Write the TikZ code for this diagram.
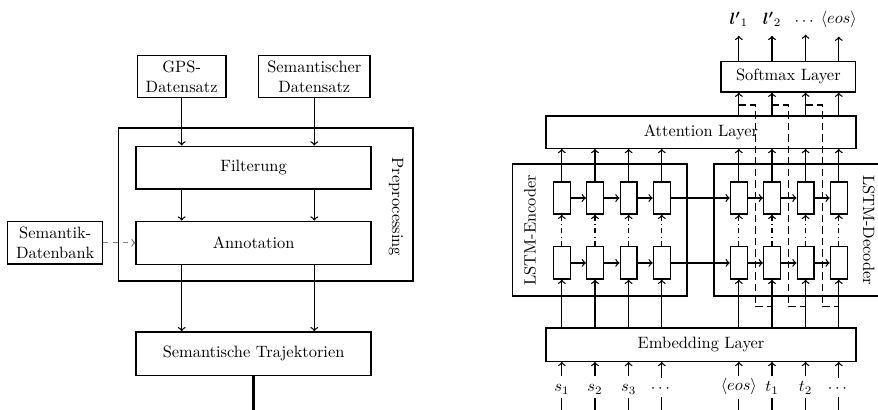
\documentclass[tikz,border=0pt]{standalone}
\usepackage{amsmath}
\usetikzlibrary{arrows}
\usetikzlibrary{positioning}

\begin{document}
\begin{tikzpicture}[>=to,thick,
                    main node/.style={rectangle,draw,align=center,minimum height=0.88cm},
                    layer node/.style={rectangle,draw,minimum width=6.64cm,minimum height=0.69cm},
                    cell node/.style={rectangle,draw,inner sep=0pt,minimum width=0.36cm,minimum height=0.69cm},
                    label node/.style={inner sep=2pt,text height=1.6ex}]
  \useasboundingbox (0,0) rectangle (18.8,-8.76);
  \coordinate (cut) at (0,-9.3);
  \coordinate (fb) at (0,-2.25);
  \coordinate (fbb) at (0,-6.57);

  % Preprocessing
  \node[main node,minimum width=1.9cm](gps) at (3.89,-1.64) {GPS-\\Datensatz};
  \node[main node,minimum width=2.38cm](semdata) at (6.73,-1.64) {Semantischer\\Datensatz};
  \node[main node,minimum width=5.03cm,minimum height=0.92cm](filter) at (5.43,-3.59) {Filterung};
  \node[main node,minimum width=5.03cm,minimum height=0.92cm](annot) [below=0.66cm of filter] {Annotation};
  \node[main node,minimum width=2.03cm](semdb) [left=0.69cm of annot] {Semantik-\\Datenbank};
  \node[main node,minimum width=5.03cm,minimum height=0.94cm](traj) [below=1.42cm of annot] {Semantische Trajektorien};
  \draw (2.53,-2.74) rectangle (8.84,-6.02);
  \node[rotate=-90](prep) at (8.48,-4.43) {Preprocessing};

  \path[->]
    (gps) edge (gps |- filter.north)
    (semdata) edge (semdata |- filter.north)
    (gps |- filter.south) edge (gps |- annot.north)
    (semdata |- filter.south) edge (semdata |- annot.north)
    (gps |- annot.south) edge (gps |- traj.north)
    (semdata |- annot.south) edge (semdata |- traj.north);
  \draw[->,dashed,gray] (semdb) -- (annot);
  \draw[line width=1.6pt] (traj) -- (traj |- cut);

  % Seq2Seq
  \node[rectangle,draw,minimum width=2.89cm,minimum height=0.66cm](soft) at (16.88,-1.64) {Softmax Layer};
  \node[layer node](att) at (15.01,-2.83) {Attention Layer};
  \node[layer node,minimum height=0.71cm](emb) at (15.01,-7.38) {Embedding Layer};
  \draw (10.98,-3.51) rectangle (14.71,-6.34);
  \draw (15.29,-3.51) rectangle (19.5,-6.34);
  \node[rotate=90](enc) at (11.35,-4.93) {LSTM-Encoder};
  \node[rotate=-90](dec) at (18.6,-4.93) {LSTM-Decoder};

  \foreach \i/\x/\t in {1/12.03/$s_1$,2/12.74/$s_2$,3/13.46/$s_3$,4/14.17/$\cdots$,
                        5/15.82/$\langle eos\rangle$,6/16.53/$t_1$,7/17.25/$t_2$,8/17.96/$\cdots$} {
    \node[cell node](top\i) at (\x,-4.24) {};
    \node[cell node](bot\i) at (\x,-5.63) {};
    \node[label node](in\i) at (\x,-8.29) {\t};
    \draw[->,dashdotted] (bot\i) -- (top\i);
    \draw[->] (top\i) -- (top\i |- att.south);
    \draw[->] (emb.north -| bot\i) -- (bot\i);
    \draw[->] (in\i) -- (in\i |- emb.south);
    \draw (in\i.south) -- (in\i |- cut);
  }
  \foreach \i/\j in {1/2,2/3,3/4,4/5,5/6,6/7,7/8} {
    \draw[->] (top\i) -- (top\j);
    \draw[->] (bot\i) -- (bot\j);
  }

  \foreach \i/\t in {5/${\boldsymbol{l'}}_1$,6/${\boldsymbol{l'}}_2$,7/$\cdots$,8/$\langle eos\rangle$} {
    \node[label node](out\i) at (top\i |- 0,-0.43) {\t};
    \draw[->] (att.north -| top\i) -- (soft.south -| top\i);
    \draw[->,shorten >=3pt] (soft.north -| top\i) -- (out\i);
  }
  \foreach \i/\j in {5/6,6/7,7/8}
    \draw[dash pattern=on 4.5pt off 2.5pt] (top\i |- fb) -- ++(0.357,0) |- (bot\j |- fbb);
\end{tikzpicture}
\end{document}
